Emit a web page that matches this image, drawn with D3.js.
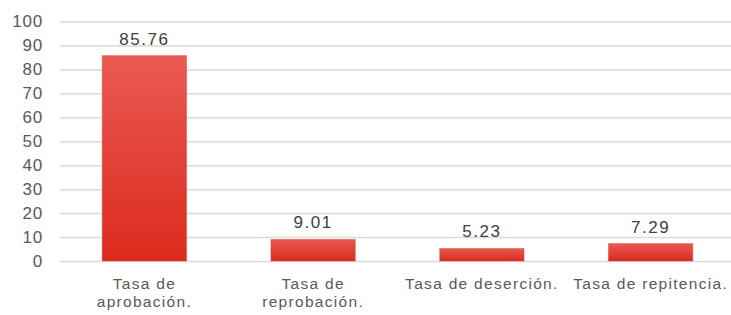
<!DOCTYPE html>
<html>
<head>
<meta charset="utf-8">
<script src="https://cdn.jsdelivr.net/npm/d3@7"></script>
<style>
  body { margin: 0; background: #fff; }
  svg { display: block; font-family: "Liberation Sans", Arial, sans-serif; }
</style>
</head>
<body>
<div id="chart"></div>
<script>
// datos del gráfico
const categorias = [["Tasa de", "aprobación."], ["Tasa de", "reprobación."], ["Tasa de deserción."], ["Tasa de repitencia."]];
const valores = [85.76, 9.01, 5.23, 7.29];
const etiquetas = ["85.76", "9.01", "5.23", "7.29"];
const ticksY = [0, 10, 20, 30, 40, 50, 60, 70, 80, 90, 100];

const width = 731, height = 315;

const svg = d3.select('#chart').append('svg')
    .attr('width', width)
    .attr('height', height);

// gradiente de las barras
const grad = svg.append('defs').append('linearGradient')
    .attr('id', 'rojo')
    .attr('x1', 0).attr('y1', 0).attr('x2', 0).attr('y2', 1);
grad.append('stop').attr('offset', '0%').attr('stop-color', '#ea5a52');
grad.append('stop').attr('offset', '100%').attr('stop-color', '#dc2a1e');

const x = d3.scaleBand()
    .domain(d3.range(categorias.length))
    .range([60, 735])
    .paddingInner(0.5)
    .paddingOuter(0.25);

const y = d3.scaleLinear()
    .domain([0, 100])
    .range([261, 21.5]);

// líneas de cuadrícula
svg.append('g')
    .attr('transform', 'translate(60,0)')
    .call(d3.axisLeft(y).tickValues(ticksY).tickSize(-(width - 60)).tickFormat(''))
    .call(g => g.select('.domain').remove())
    .selectAll('line')
    .attr('stroke', '#d9d9d9')
    .attr('stroke-width', 1.5);

// etiquetas del eje Y
svg.append('g')
    .selectAll('text')
    .data(ticksY)
    .enter()
    .append('text')
    .attr('x', 43)
    .attr('y', d => y(d))
    .attr('dy', '0.35em')
    .attr('text-anchor', 'end')
    .attr('fill', '#595959')
    .style('font-size', '17px')
    .style('letter-spacing', '0.8px')
    .text(d => d);

// barras
svg.selectAll('.barra')
    .data(valores)
    .enter()
    .append('rect')
    .attr('class', 'barra')
    .attr('x', (d, i) => x(i))
    .attr('y', d => y(d))
    .attr('width', x.bandwidth())
    .attr('height', d => y(0) - y(d))
    .attr('fill', 'url(#rojo)')
    .attr('stroke', '#c9403a')
    .attr('stroke-opacity', 0.4);

// valores
svg.selectAll('.valor')
    .data(valores)
    .enter()
    .append('text')
    .attr('class', 'valor')
    .attr('x', (d, i) => x(i) + x.bandwidth() / 2)
    .attr('y', d => y(d) - 11)
    .attr('text-anchor', 'middle')
    .attr('fill', '#404040')
    .style('font-size', '17px')
    .style('letter-spacing', '1.5px')
    .text((d, i) => etiquetas[i]);

// categorías
const cat = svg.selectAll('.cat')
    .data(categorias)
    .enter()
    .append('text')
    .attr('class', 'cat')
    .attr('text-anchor', 'middle')
    .attr('fill', '#595959')
    .style('font-size', '15.5px')
    .style('letter-spacing', '1.3px');

cat.selectAll('tspan')
    .data((d, i) => d.map(t => ({ t, i })))
    .enter()
    .append('tspan')
    .attr('x', d => x(d.i) + x.bandwidth() / 2)
    .attr('y', (d, j) => 288.5 + j * 18)
    .text(d => d.t);
</script>
</body>
</html>
